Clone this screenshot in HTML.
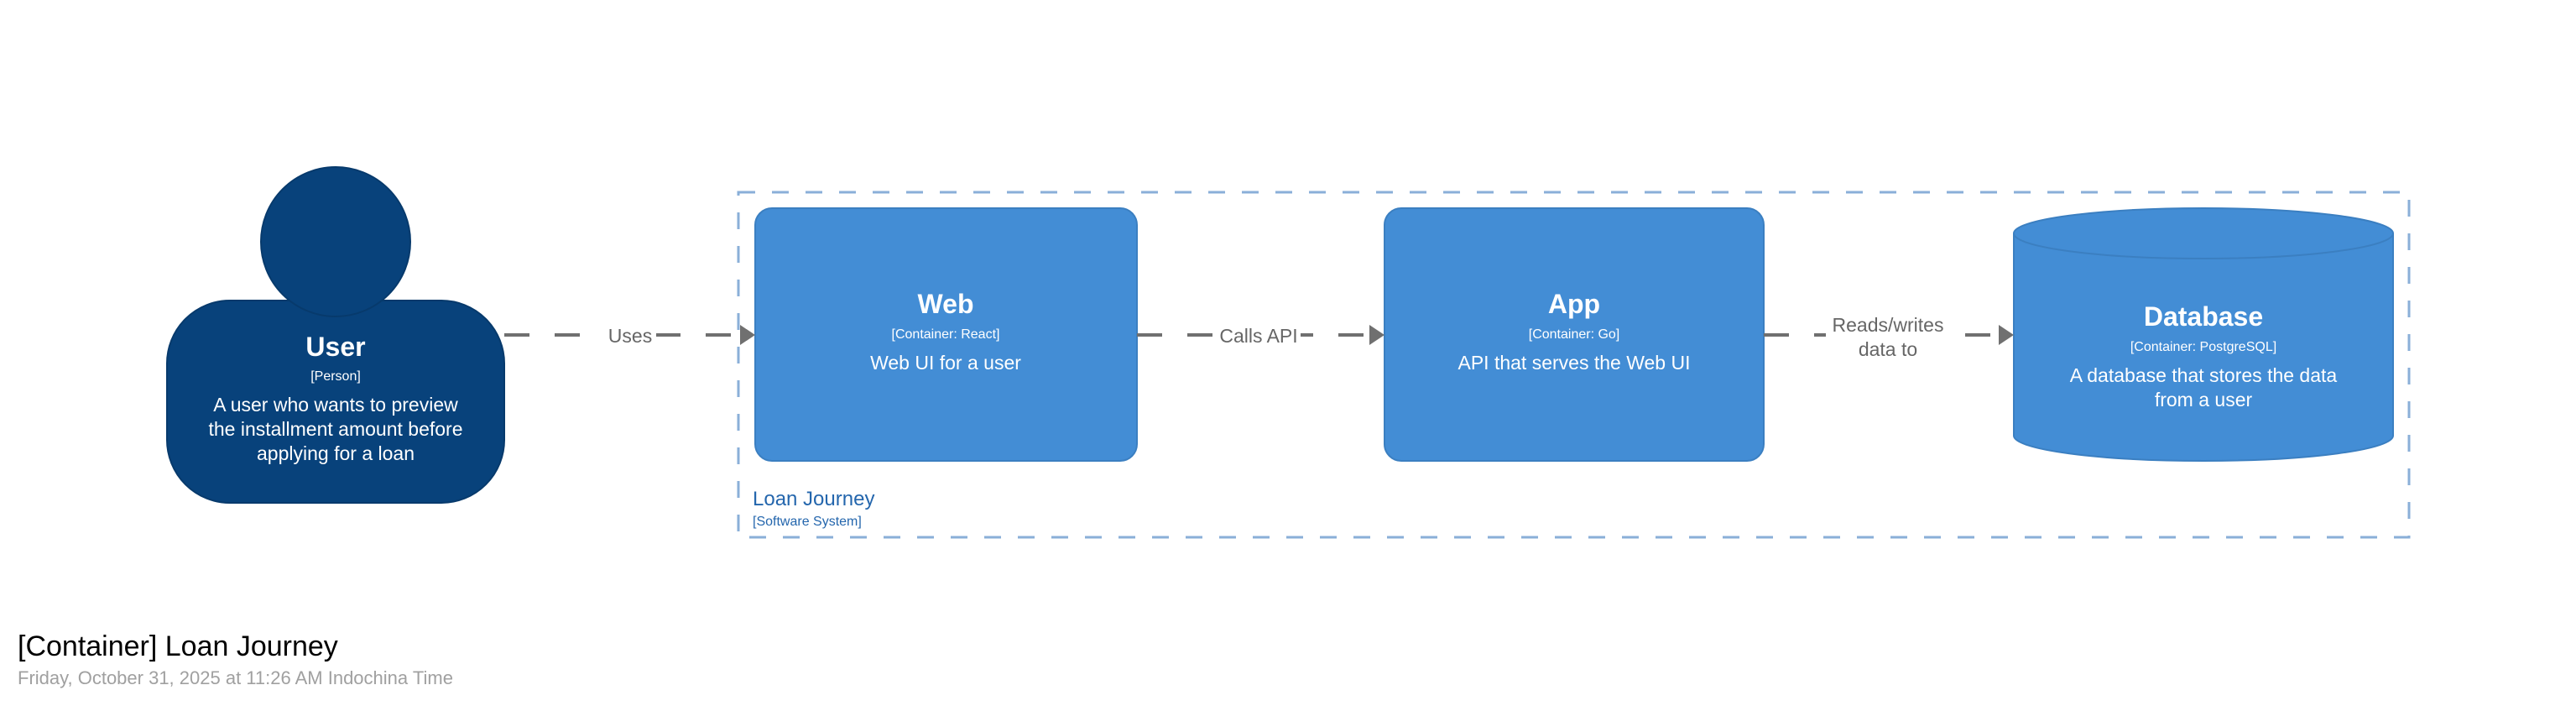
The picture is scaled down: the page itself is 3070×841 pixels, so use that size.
<!DOCTYPE html>
<html><head><meta charset="utf-8"><style>
html,body{margin:0;padding:0;background:#fff;}
svg{display:block}
text{font-family:"Liberation Sans",sans-serif;}
</style></head><body>
<svg width="3070" height="841" viewBox="0 0 3070 841" xmlns="http://www.w3.org/2000/svg">
<rect width="3070" height="841" fill="#fff"/>
<!-- boundary -->
<rect x="880" y="229" width="1991" height="411" fill="none" stroke="#8aafd8" stroke-width="3" stroke-dasharray="20 20"/>
<text x="897" y="602" font-size="24" fill="#2466ad">Loan Journey</text>
<text x="897" y="626" font-size="16" fill="#2466ad">[Software System]</text>

<!-- person -->
<rect x="199" y="358" width="402" height="241" rx="75" ry="75" fill="#08427b" stroke="#073a6c" stroke-width="2"/>
<circle cx="400" cy="288" r="89" fill="#08427b" stroke="#073a6c" stroke-width="2"/>
<text x="400" y="424" font-size="32" font-weight="bold" fill="#fff" text-anchor="middle">User</text>
<text x="400" y="453" font-size="16" fill="#fff" text-anchor="middle">[Person]</text>
<text x="400" y="490" font-size="23" fill="#fff" text-anchor="middle">A user who wants to preview</text>
<text x="400" y="519" font-size="23" fill="#fff" text-anchor="middle">the installment amount before</text>
<text x="400" y="548" font-size="23" fill="#fff" text-anchor="middle">applying for a loan</text>

<!-- containers -->
<rect x="900" y="248" width="455" height="301" rx="20" fill="#438dd5" stroke="#3b7fc1" stroke-width="2"/>
<text x="1127" y="373" font-size="32" font-weight="bold" fill="#fff" text-anchor="middle">Web</text>
<text x="1127" y="403" font-size="16" fill="#fff" text-anchor="middle">[Container: React]</text>
<text x="1127" y="440" font-size="23" fill="#fff" text-anchor="middle">Web UI for a user</text>

<rect x="1650" y="248" width="452" height="301" rx="20" fill="#438dd5" stroke="#3b7fc1" stroke-width="2"/>
<text x="1876" y="373" font-size="32" font-weight="bold" fill="#fff" text-anchor="middle">App</text>
<text x="1876" y="403" font-size="16" fill="#fff" text-anchor="middle">[Container: Go]</text>
<text x="1876" y="440" font-size="23" fill="#fff" text-anchor="middle">API that serves the Web UI</text>

<!-- database -->
<path d="M2400 278 L2400 519 A226 30 0 0 0 2852 519 L2852 278" fill="#438dd5" stroke="#3b7fc1" stroke-width="2"/>
<ellipse cx="2626" cy="278" rx="226" ry="30" fill="#438dd5" stroke="#3b7fc1" stroke-width="2"/>
<text x="2626" y="388" font-size="32" font-weight="bold" fill="#fff" text-anchor="middle">Database</text>
<text x="2626" y="418" font-size="16" fill="#fff" text-anchor="middle">[Container: PostgreSQL]</text>
<text x="2626" y="455" font-size="23" fill="#fff" text-anchor="middle">A database that stores the data</text>
<text x="2626" y="484" font-size="23" fill="#fff" text-anchor="middle">from a user</text>

<!-- connectors -->
<g stroke="#707070" stroke-width="4" stroke-dasharray="30 30" fill="none">
<line x1="601" y1="399" x2="884" y2="399"/>
<line x1="1355" y1="399" x2="1634" y2="399"/>
<line x1="2102" y1="399" x2="2384" y2="399"/>
</g>
<g fill="#707070">
<polygon points="882,387 900,399 882,411"/>
<polygon points="1632,387 1650,399 1632,411"/>
<polygon points="2382,387 2400,399 2382,411"/>
</g>
<rect x="720" y="385" width="62" height="28" fill="#fff"/>
<text x="751" y="408" font-size="23" fill="#666" text-anchor="middle">Uses</text>
<rect x="1450" y="385" width="100" height="28" fill="#fff"/>
<text x="1500" y="408" font-size="23" fill="#666" text-anchor="middle">Calls API</text>
<rect x="2176" y="373" width="148" height="58" fill="#fff"/>
<text x="2250" y="395" font-size="23" fill="#666" text-anchor="middle">Reads/writes</text>
<text x="2250" y="424" font-size="23" fill="#666" text-anchor="middle">data to</text>

<!-- footer -->
<text x="21" y="781" font-size="34" fill="#000">[Container] Loan Journey</text>
<text x="21" y="815" font-size="22" fill="#a0a0a0">Friday, October 31, 2025 at 11:26 AM Indochina Time</text>
</svg>
</body></html>
